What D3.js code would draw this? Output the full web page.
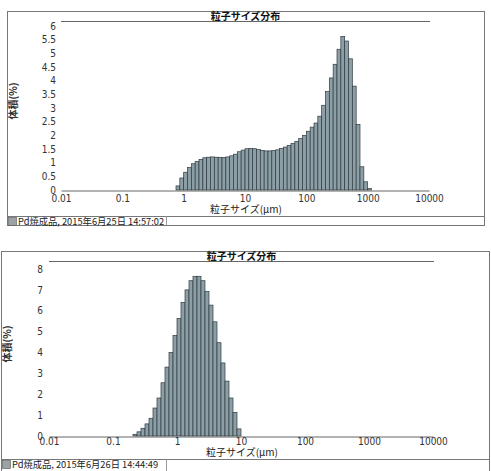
<!DOCTYPE html>
<html lang="ja">
<head>
<meta charset="UTF-8">
<title>粒子サイズ分布</title>
<script src="https://cdn.jsdelivr.net/npm/d3@7"></script>
<style>
  body { margin: 0; background: #fff; }
  svg { display: block; }
</style>
</head>
<body>
<script>
    // 粒径チャンネルの境界 (μm)
    var channels = [0.1000, 0.1155, 0.1334, 0.1540, 0.1778, 0.2054, 0.2371, 0.2738, 0.3162, 0.3652, 0.4217, 0.4870, 0.5623, 0.6494, 0.7499, 0.8660,
                    1.000, 1.155, 1.334, 1.540, 1.778, 2.054, 2.371, 2.738, 3.162, 3.652, 4.217, 4.870, 5.623, 6.494, 7.499, 8.660,
                    10.00, 11.55, 13.34, 15.40, 17.78, 20.54, 23.71, 27.38, 31.62, 36.52, 42.17, 48.70, 56.23, 64.94, 74.99, 86.60,
                    100.0, 115.5, 133.4, 154.0, 177.8, 205.4, 237.1, 273.8, 316.2, 365.2, 421.7, 487.0, 562.3, 649.4, 749.9, 866.0,
                    1000, 1155];

    var xTicks = [0.01, 0.1, 1, 10, 100, 1000, 10000];
    var yTicksA = [0, 0.5, 1, 1.5, 2, 2.5, 3, 3.5, 4, 4.5, 5, 5.5, 6];
    var yTicksB = [0, 1, 2, 3, 4, 5, 6, 7, 8];

    // 試料A: 2015年6月25日 (channel 14 から)
    var startA = 14;
    var volumeA = [0.15, 0.44, 0.65, 0.82, 0.96, 1.04, 1.12, 1.18, 1.2, 1.21, 1.2, 1.19, 1.19, 1.21, 1.25, 1.31, 1.4, 1.46,
                   1.51, 1.52, 1.51, 1.48, 1.45, 1.43, 1.43, 1.44, 1.47, 1.52, 1.57, 1.63, 1.7, 1.78, 1.88, 2.0,
                   2.15, 2.3, 2.45, 2.7, 3.1, 3.6, 4.1, 4.6, 5.15, 5.62, 5.45, 4.8, 3.8, 2.4, 0.85, 0.3, 0.05];
    var legendA = "Pd焼成品, 2015年6月25日 14:57:02";

    // 試料B: 2015年6月26日 (channel 5 から)
    var startB = 5;
    var volumeB = [0.08, 0.2, 0.37, 0.58, 0.85, 1.34, 1.82, 2.55, 3.3, 4.0, 4.82, 5.63, 6.4, 7.0, 7.44, 7.65, 7.65,
                   7.44, 6.92, 6.27, 5.47, 4.47, 3.5, 2.63, 1.82, 1.13, 0.34];
    var legendB = "Pd焼成品, 2015年6月26日 14:44:49";

    var title = "粒子サイズ分布";
    var xTitle = "粒子サイズ(μm)";
    var yTitle = "体積(%)";

    var svg = d3.select("body").append("svg")
                .attr("width", 491)
                .attr("height", 471);

    var jp = "'Noto Sans CJK JP', sans-serif";
    var num = "'Liberation Sans Narrow', 'DejaVu Sans Condensed', sans-serif";

    function drawPanel(p, start, values, yTicks, legend){
        var g = svg.append("g");

        // 外枠
        g.append("rect")
            .attr("x", p.left + 0.5).attr("y", p.top + 0.5)
            .attr("width", p.right - p.left).attr("height", p.bottom - p.top)
            .attr("fill", "none").attr("stroke", "#777").attr("stroke-width", 1);
        g.append("line")
            .attr("x1", p.left).attr("x2", p.right)
            .attr("y1", p.divider + 0.5).attr("y2", p.divider + 0.5)
            .attr("stroke", "#777");
        g.append("line")
            .attr("x1", p.legendRight + 0.5).attr("x2", p.legendRight + 0.5)
            .attr("y1", p.divider).attr("y2", p.bottom)
            .attr("stroke", "#999");

        var x = d3.scaleLog().domain([0.01, 10000]).range([p.x0, p.x1]);
        var y = d3.scaleLinear().domain([0, yTicks[yTicks.length - 1]]).range([p.y0, p.y1]);

        // タイトル
        g.append("line")
            .attr("x1", p.x0).attr("x2", p.x1 + 1)
            .attr("y1", p.titleY + 1.5).attr("y2", p.titleY + 1.5)
            .attr("stroke", "#666").attr("stroke-width", 1);
        g.append("text")
            .attr("x", (p.x0 + p.x1) / 2 + 0.5).attr("y", p.titleY)
            .attr("text-anchor", "middle")
            .attr("font-family", jp).attr("font-size", 10).attr("font-weight", "bold")
            .attr("fill", "#111")
            .text(title);

        // 棒グラフ
        g.selectAll(".bar")
            .data(values)
            .enter()
            .append("rect")
            .attr("x", function (d, i){ return x(channels[start + i]); })
            .attr("width", function (d, i){ return x(channels[start + i + 1]) - x(channels[start + i]); })
            .attr("y", function (d){ return y(d); })
            .attr("height", function (d){ return y(0) - y(d); })
            .attr("fill", "#8d9fa6")
            .attr("stroke", "#2e3a3f")
            .attr("stroke-width", 0.7);

        // x軸
        var axisX = d3.axisBottom(x).tickValues(xTicks).tickSize(0)
                        .tickFormat(function (d){ return String(d); });
        var gx = g.append("g")
            .attr("transform", "translate(0," + (p.y0 + 0.5) + ")")
            .call(axisX);
        gx.select(".domain").attr("stroke", "#666");
        gx.selectAll("text")
            .attr("font-family", num).attr("font-size", 10).attr("fill", "#333")
            .attr("y", p.xLabelDy).attr("dy", 0);

        // y軸
        var axisY = d3.axisLeft(y).tickValues(yTicks).tickSize(0)
                        .tickFormat(function (d){ return String(d); });
        var gy = g.append("g")
            .attr("transform", "translate(" + p.yLabelX + ",0)")
            .call(axisY);
        gy.select(".domain").remove();
        gy.selectAll("text")
            .attr("font-family", num).attr("font-size", 10).attr("fill", "#333")
            .attr("x", 0);

        // 軸タイトル
        g.append("text")
            .attr("x", (p.x0 + p.x1) / 2 + 1).attr("y", p.xTitleY)
            .attr("text-anchor", "middle")
            .attr("font-family", jp).attr("font-size", 10).attr("fill", "#222")
            .text(xTitle);
        g.append("text")
            .attr("transform", "translate(" + p.yTitleX + "," + p.yTitleY + ") rotate(-90)")
            .attr("text-anchor", "middle")
            .attr("font-family", jp).attr("font-size", 10).attr("font-weight", "bold").attr("fill", "#333")
            .text(yTitle);

        // 凡例
        g.append("rect")
            .attr("x", p.left + 1.5).attr("y", p.divider + 1.5)
            .attr("width", 8).attr("height", 8)
            .attr("fill", "#9aa3a6").attr("stroke", "#555").attr("stroke-width", 0.6);
        g.append("text")
            .attr("x", p.left + 11).attr("y", p.divider + 9)
            .attr("font-family", jp).attr("font-size", 9.3).attr("fill", "#222")
            .text(legend);
    }

    drawPanel({left: 7, right: 484, top: 11, bottom: 225, divider: 216, legendRight: 166,
               x0: 61, x1: 429, y0: 190, y1: 26, titleY: 20, xLabelDy: 11, yLabelX: 56,
               xTitleY: 213, yTitleX: 17, yTitleY: 101},
              startA, volumeA, yTicksA, legendA);

    drawPanel({left: 1, right: 489, top: 251, bottom: 490, divider: 459, legendRight: 166,
               x0: 49, x1: 433, y0: 436, y1: 269, titleY: 260, xLabelDy: 8.5, yLabelX: 43,
               xTitleY: 456, yTitleX: 11, yTitleY: 344},
              startB, volumeB, yTicksB, legendB);
</script>
</body>
</html>
